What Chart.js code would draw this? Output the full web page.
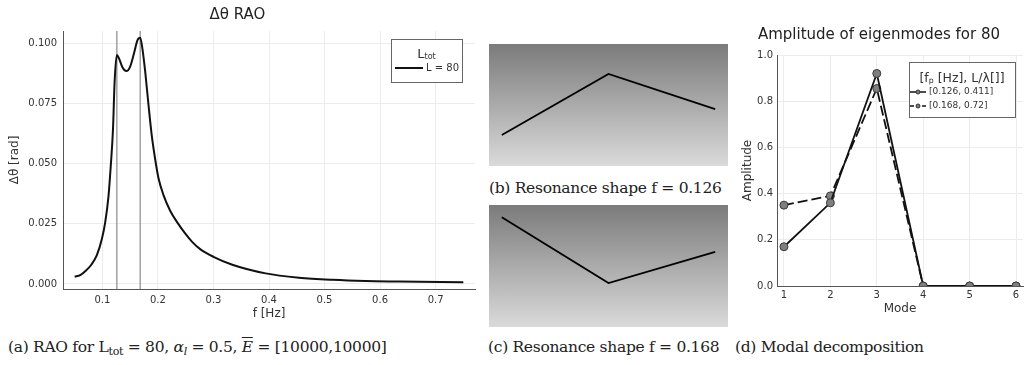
<!DOCTYPE html>
<html>
<head>
<meta charset="utf-8">
<script src="https://cdn.jsdelivr.net/npm/chart.js@4.4.1/dist/chart.umd.min.js"></script>
<style>
  body { margin: 0; width: 1031px; height: 365px; background: #fff; position: relative; overflow: hidden; }
  canvas { position: absolute; }
  .shape { background: linear-gradient(#7b7b7b, #dadada); }
  .cap { position: absolute; font-family: "DejaVu Serif", serif; font-size: 15.5px; color: #222; white-space: nowrap; line-height: 18px; letter-spacing: -0.3px; }
  .cap sub { font-size: 11px; vertical-align: -3px; }
</style>
</head>
<body>
<canvas id="rao" width="480" height="322" style="left:0;top:0"></canvas>
<canvas id="shapeB" class="shape" width="239" height="122" style="left:489px;top:44px"></canvas>
<canvas id="shapeC" class="shape" width="239" height="122" style="left:489px;top:205px"></canvas>
<canvas id="modes" width="296" height="302" style="left:735px;top:18px"></canvas>

<div class="cap" style="left:8px;top:338px">(a) RAO for L<sub>tot</sub> = 80, <i>α<sub>l</sub></i> = 0.5, <i style="text-decoration:overline">E</i> = [10000,10000]</div>
<div class="cap" style="left:489px;top:179px">(b) Resonance shape f = 0.126</div>
<div class="cap" style="left:488px;top:338px">(c) Resonance shape f = 0.168</div>
<div class="cap" style="left:735px;top:338px">(d) Modal decomposition</div>

<script>
// RAO curve, L = 80
const freq = [0.050, 0.060, 0.070, 0.080, 0.090, 0.099, 0.105, 0.111, 0.115, 0.119, 0.122, 0.126, 0.130,
  0.136, 0.143, 0.150, 0.157, 0.163, 0.168, 0.172, 0.177, 0.183, 0.189, 0.195, 0.201, 0.210, 0.222,
  0.236, 0.250, 0.262, 0.276, 0.300, 0.334, 0.394, 0.454, 0.514, 0.574, 0.634, 0.750];
const dTheta = [0.0030, 0.0037, 0.0055, 0.0080, 0.0120, 0.0187, 0.0256, 0.0367, 0.0491, 0.0643, 0.0844, 0.0953, 0.0938,
  0.0902, 0.0886, 0.0905, 0.0961, 0.1014, 0.1025, 0.0980, 0.0885, 0.0745, 0.0615, 0.0519, 0.0440, 0.0370, 0.0305,
  0.0252, 0.0207, 0.0174, 0.0145, 0.0113, 0.0080, 0.0044, 0.0026, 0.0017, 0.0012, 0.0010, 0.0007];
const resonances = [0.126, 0.168];

// resonance shapes (three nodes)
const nodes = [0, 1, 2];
const shape126 = [0.254, 0.754, 0.467];
const shape168 = [0.900, 0.360, 0.615];

// modal amplitudes
const modes = [1, 2, 3, 4, 5, 6];
const amp126 = [0.17, 0.36, 0.92, 0, 0, 0];
const amp168 = [0.35, 0.39, 0.855, 0, 0, 0];
const modeLabels = ['[0.126, 0.411]', '[0.168, 0.72]'];

const SANS = '"DejaVu Sans", sans-serif';
const GRID = '#ececec';
const AXIS = '#555';
const TXT = '#333';

// Plots-style framed legend drawn inside the plot area
function boxLegend(opts) {
  return {
    id: 'boxLegend',
    afterDraw(chart) {
      const { ctx, chartArea: a } = chart;
      const x = a.right - opts.right - opts.w, y = a.top + opts.top;
      ctx.save();
      ctx.fillStyle = '#fff';
      ctx.fillRect(x, y, opts.w, opts.h);
      ctx.strokeStyle = '#666';
      ctx.lineWidth = 1;
      ctx.strokeRect(x + 0.5, y + 0.5, opts.w, opts.h);
      // title, with a subscript part
      ctx.fillStyle = TXT;
      ctx.textBaseline = 'alphabetic';
      const size = p => (p.sub ? opts.titleSize * 0.62 : opts.titleSize) + 'px ' + SANS;
      let tw = 0;
      opts.title.forEach(p => { ctx.font = size(p); tw += ctx.measureText(p.t).width; });
      let tx = x + opts.w / 2 - tw / 2;
      opts.title.forEach(p => {
        ctx.font = size(p);
        ctx.fillText(p.t, tx, y + opts.titleY + (p.sub ? 1 : 0));
        tx += ctx.measureText(p.t).width;
      });
      opts.entries.forEach((e, i) => {
        const ly = y + opts.rowY + i * opts.rowGap;
        ctx.strokeStyle = '#111';
        ctx.lineWidth = e.lw;
        ctx.setLineDash(e.dash || []);
        ctx.beginPath();
        ctx.moveTo(x + opts.inset, ly);
        ctx.lineTo(x + opts.inset + opts.sample, ly);
        ctx.stroke();
        ctx.setLineDash([]);
        if (e.marker) {
          ctx.beginPath();
          ctx.arc(x + opts.inset + opts.sample / 2, ly, 2, 0, Math.PI * 2);
          ctx.fillStyle = '#7f7f7f';
          ctx.fill();
          ctx.lineWidth = 1;
          ctx.strokeStyle = '#333';
          ctx.stroke();
        }
        ctx.fillStyle = TXT;
        ctx.font = opts.entrySize + 'px ' + SANS;
        ctx.textBaseline = 'middle';
        ctx.fillText(e.label, x + opts.inset + opts.sample + 3, ly);
      });
      ctx.restore();
    }
  };
}

function axisTitle(text, size, pad) {
  return { display: true, text, color: TXT, font: { family: SANS, size }, padding: pad };
}

// (a) RAO
new Chart(document.getElementById('rao'), {
  type: 'line',
  data: {
    datasets: [
      {
        label: 'L = 80',
        data: freq.map((f, i) => ({ x: f, y: dTheta[i] })),
        borderColor: '#111', borderWidth: 2, pointRadius: 0,
        cubicInterpolationMode: 'monotone'
      },
      ...resonances.map(f => ({
        data: [{ x: f, y: -1 }, { x: f, y: 1 }],
        borderColor: '#8a8a8a', borderWidth: 1.2, pointRadius: 0
      }))
    ]
  },
  options: {
    responsive: false, animation: false,
    layout: { padding: { right: 5 } },
    plugins: {
      legend: { display: false }, tooltip: { enabled: false },
      title: { display: true, text: 'Δθ RAO', color: '#222', font: { family: SANS, size: 15, weight: 'normal' }, padding: { top: 6, bottom: 7 } }
    },
    scales: {
      x: {
        type: 'linear', min: 0.029, max: 0.771,
        ticks: { stepSize: 0.1, includeBounds: false, color: TXT, font: { family: SANS, size: 10 }, padding: 5, maxRotation: 0,
          callback: v => v.toFixed(1) },
        grid: { color: GRID, drawTicks: false },
        border: { color: AXIS },
        title: axisTitle('f [Hz]', 12, { top: 0, bottom: 1 }),
        afterFit(s) { s.height = 322 - 289; }
      },
      y: {
        min: -0.0021, max: 0.1053,
        ticks: { stepSize: 0.025, includeBounds: false, color: TXT, font: { family: SANS, size: 10 }, padding: 6,
          callback: v => v.toFixed(3) },
        grid: { color: GRID, drawTicks: false },
        border: { color: AXIS },
        title: axisTitle('Δθ [rad]', 12, { top: 8, bottom: 0 }),
        afterFit(s) { s.width = 63; }
      }
    }
  },
  plugins: [boxLegend({
    right: 13, top: 8, w: 71, h: 43, titleSize: 13, titleY: 19, inset: 4,
    title: [{ t: 'L' }, { t: 'tot', sub: true }],
    rowY: 29, rowGap: 0, sample: 28, entrySize: 10,
    entries: [{ label: 'L = 80', lw: 2 }]
  })]
});

// (b), (c) resonance shapes
function shapeChart(id, values) {
  new Chart(document.getElementById(id), {
    type: 'line',
    data: { datasets: [{ data: nodes.map((n, i) => ({ x: n, y: values[i] })), borderColor: '#000', borderWidth: 1.8, pointRadius: 0, tension: 0 }] },
    options: {
      responsive: false, animation: false,
      layout: { padding: 0 },
      plugins: { legend: { display: false }, tooltip: { enabled: false } },
      scales: {
        x: { type: 'linear', display: false, min: -0.12, max: 2.12 },
        y: { display: false, min: 0, max: 1 }
      }
    }
  });
}
shapeChart('shapeB', shape126);
shapeChart('shapeC', shape168);

// (d) modal decomposition
const markerStyle = { pointRadius: 4, pointBackgroundColor: '#7f7f7f', pointBorderColor: '#3a3a3a', pointBorderWidth: 1 };
new Chart(document.getElementById('modes'), {
  type: 'line',
  data: {
    datasets: [
      { label: modeLabels[0], data: modes.map((m, i) => ({ x: m, y: amp126[i] })), borderColor: '#111', borderWidth: 1.8, ...markerStyle },
      { label: modeLabels[1], data: modes.map((m, i) => ({ x: m, y: amp168[i] })), borderColor: '#111', borderWidth: 1.8, borderDash: [10, 4], ...markerStyle }
    ]
  },
  options: {
    responsive: false, animation: false,
    layout: { padding: { right: 8 } },
    plugins: {
      legend: { display: false }, tooltip: { enabled: false },
      title: { display: true, text: 'Amplitude of eigenmodes for 80', color: '#222', font: { family: SANS, size: 15, weight: 'normal' }, padding: { top: 8, bottom: 11 } }
    },
    scales: {
      x: {
        type: 'linear', min: 0.85, max: 6.15,
        ticks: { stepSize: 1, includeBounds: false, color: TXT, font: { family: SANS, size: 10 }, padding: 3 },
        grid: { color: GRID, drawTicks: false },
        border: { color: AXIS },
        title: axisTitle('Mode', 12, { top: 0, bottom: 4 }),
        afterFit(s) { s.height = 302 - 268; }
      },
      y: {
        min: 0, max: 1,
        ticks: { stepSize: 0.2, color: TXT, font: { family: SANS, size: 10 }, padding: 4, callback: v => v.toFixed(1) },
        grid: { color: GRID, drawTicks: false },
        border: { color: AXIS },
        title: axisTitle('Amplitude', 12, { top: 6, bottom: 0 }),
        afterFit(s) { s.width = 42; }
      }
    }
  },
  plugins: [boxLegend({
    right: 8, top: 7, w: 106, h: 55, titleSize: 12.5, titleY: 20, inset: 1,
    title: [{ t: '[f' }, { t: 'p', sub: true }, { t: ' [Hz], L/λ[]]' }],
    rowY: 30, rowGap: 14, sample: 16, entrySize: 9,
    entries: [
      { label: modeLabels[0], lw: 1.5, marker: true },
      { label: modeLabels[1], lw: 1.5, marker: true, dash: [4, 2] }
    ]
  })]
});
</script>
</body>
</html>
